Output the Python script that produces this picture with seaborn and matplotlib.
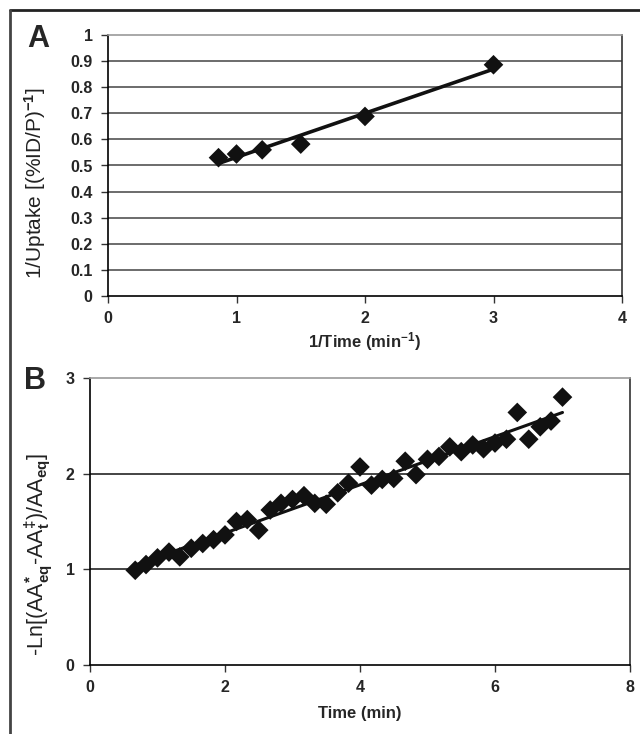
import numpy as np
import pandas as pd
import matplotlib
matplotlib.use("Agg")
import matplotlib.pyplot as plt
import seaborn as sns
from matplotlib.lines import Line2D

# ---- Data ----
inv_time = [0.86, 1.0, 1.2, 1.5, 2.0, 3.0]
inv_uptake = [0.53, 0.544, 0.56, 0.582, 0.688, 0.886]

time_min = [0.67, 0.83, 1.0, 1.17, 1.33, 1.5, 1.67, 1.83, 2.0, 2.17, 2.33, 2.5,
            2.67, 2.83, 3.0, 3.17, 3.33, 3.5, 3.67, 3.83, 4.0, 4.17, 4.33, 4.5,
            4.67, 4.83, 5.0, 5.17, 5.33, 5.5, 5.67, 5.83, 6.0, 6.17, 6.33, 6.5,
            6.67, 6.83, 7.0]
neg_ln = [0.99, 1.05, 1.12, 1.18, 1.13, 1.22, 1.27, 1.31, 1.36, 1.50, 1.52, 1.41,
          1.62, 1.69, 1.73, 1.77, 1.69, 1.68, 1.80, 1.90, 2.07, 1.88, 1.94, 1.95,
          2.13, 1.99, 2.15, 2.18, 2.28, 2.23, 2.30, 2.26, 2.32, 2.36, 2.64, 2.36,
          2.49, 2.55, 2.80]

xticks_a = [0, 1, 2, 3, 4]
yticks_a = [0, 0.1, 0.2, 0.3, 0.4, 0.5, 0.6, 0.7, 0.8, 0.9, 1]
ytick_labels_a = ["0", "0.1", "0.2", "0.3", "0.4", "0.5", "0.6", "0.7", "0.8", "0.9", "1"]
xticks_b = [0, 2, 4, 6, 8]
yticks_b = [0, 1, 2, 3]

df_a = pd.DataFrame({"x": inv_time, "y": inv_uptake})
df_b = pd.DataFrame({"x": time_min, "y": neg_ln})

sns.set_theme(style="white")
plt.rcParams["font.family"] = ["Liberation Sans", "DejaVu Sans"]
plt.rcParams["font.weight"] = "bold"
plt.rcParams["mathtext.fontset"] = "custom"
plt.rcParams["mathtext.rm"] = "Liberation Sans"
plt.rcParams["mathtext.it"] = "Liberation Sans"
plt.rcParams["mathtext.bf"] = "Liberation Sans:bold"
plt.rcParams["mathtext.default"] = "rm"

W, H = 640, 734
fig = plt.figure(figsize=(W / 100, H / 100), dpi=100)

def px_axes(l, t, r, b):
    return fig.add_axes([l / W, 1 - b / H, (r - l) / W, (b - t) / H])

axA = px_axes(108, 35, 622, 296)
axB = px_axes(90, 378, 630, 665)

def style(ax, yticks, grid_col):
    ax.set_facecolor("white")
    for y in yticks[1:-1]:
        ax.axhline(y, color=grid_col, lw=1.1, zorder=0)
    ax.spines["left"].set_color("black")
    ax.spines["bottom"].set_color("black")
    ax.spines["top"].set_color("#9a9a9a")
    ax.spines["right"].set_color("#333333")
    for s in ax.spines.values():
        s.set_linewidth(1.2)
        s.set_visible(True)
    ax.tick_params(axis="both", which="both", direction="out", length=5,
                   width=1, color="#333333", labelsize=11.5, pad=6,
                   left=True, bottom=True)
    for lab in ax.get_xticklabels() + ax.get_yticklabels():
        lab.set_fontweight("bold")

scat = {"s": 100, "color": "#111111", "edgecolors": "none", "zorder": 3, "alpha": 1}

# Panel A
sns.regplot(data=df_a, x="x", y="y", ax=axA, ci=None, truncate=True,
            marker="D", color="black", scatter_kws=scat,
            line_kws={"color": "#111111", "lw": 2.6, "zorder": 4})
axA.set_xlim(0, 4)
axA.set_ylim(0, 1)
axA.set_xticks(xticks_a)
axA.set_xticklabels([str(v) for v in xticks_a])
axA.set_yticks(yticks_a)
axA.set_yticklabels(ytick_labels_a)
style(axA, yticks_a, "#444444")
axA.set_xlabel(r"1/Time (min$^{-1}$)", fontsize=12, fontweight="bold", labelpad=3)
axA.set_ylabel(r"1/Uptake [(%ID/P)$^{-1}$]", fontsize=15, fontweight="normal",
               color="#222222")
axA.yaxis.set_label_coords(-0.117, 0.433)

# Panel B
sns.regplot(data=df_b, x="x", y="y", ax=axB, ci=None, truncate=True,
            marker="D", color="black", scatter_kws=scat,
            line_kws={"color": "#111111", "lw": 2.2, "zorder": 4})
axB.set_xlim(0, 8)
axB.set_ylim(0, 3)
axB.set_xticks(xticks_b)
axB.set_xticklabels([str(v) for v in xticks_b])
axB.set_yticks(yticks_b)
axB.set_yticklabels([str(v) for v in yticks_b])
style(axB, yticks_b, "#111111")
axB.set_xlabel("Time (min)", fontsize=12, fontweight="bold", labelpad=8)
axB.set_ylabel(r"-Ln[(AA$_{eq}^{*}$-AA$_{t}^{‡}$)/AA$_{eq}$]", fontsize=15.5,
               fontweight="normal", color="#222222")
axB.yaxis.set_label_coords(-0.065, 0.385)

# Panel letters
fig.text(38.5 / W, 1 - 39 / H, "A", fontsize=22, fontweight="bold", ha="center", va="center")
fig.text(35 / W, 1 - 381 / H, "B", fontsize=22, fontweight="bold", ha="center", va="center")

# Outer frame (top and left)
fig.add_artist(Line2D([10 / W, 1.0], [1 - 10 / H, 1 - 10 / H], color="#222222", lw=2,
                      transform=fig.transFigure))
fig.add_artist(Line2D([10 / W, 10 / W], [1 - 10 / H, 0.0], color="#444444", lw=2,
                      transform=fig.transFigure))

fig.savefig("out.png", dpi=100)
